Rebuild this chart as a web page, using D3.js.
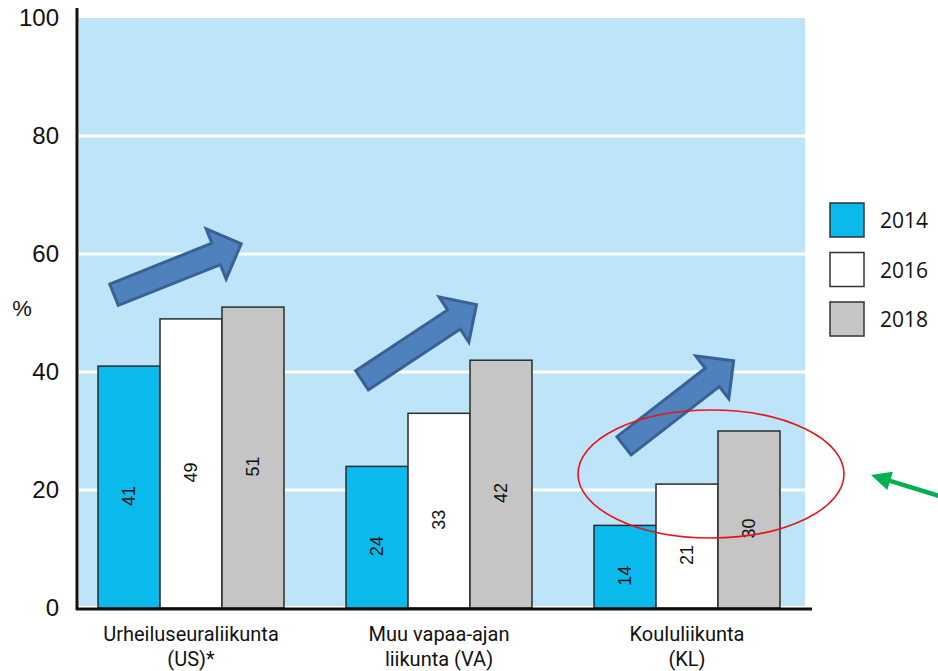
<!doctype html>
<html>
  <head>
    <script src="https://cdnjs.cloudflare.com/ajax/libs/d3/7.8.5/d3.min.js"></script>
    <style>
      body { margin: 0; background: #fff; }
      rect.bar { stroke: #2b2b2b; stroke-width: 1.5; }
      line.grid { stroke: #fff; stroke-width: 3; }
      path.trend { fill: #4f81bd; stroke: #3a6195; stroke-width: 3; stroke-linejoin: miter; }
      text { fill: #111; }
    </style>
  </head>
  <body>
    <svg id="chart" width="938" height="671"></svg>
    <script>
      // data
      var categories = [
        ["Urheiluseuraliikunta", "(US)*"],
        ["Muu vapaa-ajan", "liikunta (VA)"],
        ["Koululiikunta", "(KL)"]
      ];
      var years = ["2014", "2016", "2018"];
      var values2014 = [41, 24, 14];
      var values2016 = [49, 33, 21];
      var values2018 = [51, 42, 30];
      var yTicks = [0, 20, 40, 60, 80, 100];
      var yearColors = ["#0bbaec", "#ffffff", "#c5c5c5"];

      // trend arrows: offsets from group centre (px) and value levels
      var trendArrows = [
        { cat: 0, dx0: -77, v0: 53.1, dx1: 53, v1: 61.9 },
        { cat: 1, dx0: -77, v0: 38.6, dx1: 40, v1: 51.7 },
        { cat: 2, dx0: -63, v0: 27.5, dx1: 49, v1: 42.2 }
      ];

      var series = [values2014, values2016, values2018];
      var svg = d3.select("#chart");

      var y = d3.scaleLinear().domain([0, 100]).range([608, 18]);
      var x0 = d3.scaleBand().domain(d3.range(categories.length))
        .range([67, 811]).paddingInner(0.25).paddingOuter(0.125);
      var x1 = d3.scaleBand().domain(d3.range(years.length))
        .range([0, x0.bandwidth()]);

      // plot background
      svg.append("rect")
        .attr("x", 79).attr("y", y(100))
        .attr("width", 805 - 79).attr("height", y(0) - y(100) - 2)
        .attr("fill", "#bde4f8");

      svg.selectAll("line.grid")
        .data(yTicks.filter(d => d > 0 && d < 100))
        .enter().append("line")
          .attr("class", "grid")
          .attr("x1", 79).attr("x2", 805)
          .attr("y1", d => y(d)).attr("y2", d => y(d));

      // bars
      var groups = svg.selectAll("g.group")
        .data(categories)
        .enter().append("g")
          .attr("transform", (d, i) => "translate(" + x0(i) + ",0)");

      groups.selectAll("rect.bar")
        .data((d, i) => series.map((s, j) => ({ year: j, value: s[i] })))
        .enter().append("rect")
          .attr("class", "bar")
          .attr("x", d => x1(d.year))
          .attr("y", d => y(d.value))
          .attr("width", x1.bandwidth())
          .attr("height", d => y(0) - y(d.value))
          .attr("fill", d => yearColors[d.year]);

      groups.selectAll("text.val")
        .data((d, i) => series.map((s, j) => ({ year: j, value: s[i] })))
        .enter().append("text")
          .attr("transform", d => "translate(" + (x1(d.year) + x1.bandwidth() / 2 + 6) + "," +
                ((y(d.value) + y(0)) / 2 + 9) + ") rotate(-90)")
          .attr("text-anchor", "middle")
          .style("font-family", "Liberation Sans, Arial, sans-serif")
          .style("font-size", "18px")
          .text(d => d.value);

      // axes lines
      svg.append("line").attr("x1", 77).attr("x2", 77).attr("y1", 8).attr("y2", 610)
        .attr("stroke", "#111").attr("stroke-width", 3);
      svg.append("line").attr("x1", 76).attr("x2", 812).attr("y1", 609).attr("y2", 609)
        .attr("stroke", "#111").attr("stroke-width", 3);

      var yAxis = svg.append("g");
      yAxis.selectAll("text")
        .data(yTicks)
        .enter().append("text")
          .attr("x", 59).attr("y", d => y(d) + 8)
          .attr("text-anchor", "end")
          .style("font-family", "Liberation Sans, Arial, sans-serif")
          .style("font-size", "24px")
          .text(d => d);

      svg.append("text").attr("x", 22).attr("y", 316)
        .attr("text-anchor", "middle")
        .style("font-family", "Liberation Sans, Arial, sans-serif")
        .style("font-size", "22px").text("%");

      // category labels
      groups.append("text")
        .attr("text-anchor", "middle")
        .attr("x", x0.bandwidth() / 2)
        .style("font-family", "Roboto, sans-serif")
        .style("font-size", "20px")
        .selectAll("tspan")
        .data(d => d)
        .enter().append("tspan")
          .attr("x", x0.bandwidth() / 2)
          .attr("y", (d, i) => 641 + i * 25)
          .text(d => d);

      // trend arrows
      function arrowPath(L, w, hw, hl) {
        return "M0," + (-w / 2) + "L" + (L - hl) + "," + (-w / 2) + "L" + (L - hl) + "," + (-hw / 2) +
          "L" + L + ",0L" + (L - hl) + "," + (hw / 2) + "L" + (L - hl) + "," + (w / 2) +
          "L0," + (w / 2) + "Z";
      }
      trendArrows.forEach(a => {
        var cx = x0(a.cat) + x0.bandwidth() / 2;
        var xa = cx + a.dx0, ya = y(a.v0), xb = cx + a.dx1, yb = y(a.v1);
        var L = Math.hypot(xb - xa, yb - ya) - 3;
        var ang = Math.atan2(yb - ya, xb - xa) * 180 / Math.PI;
        svg.append("path")
          .attr("class", "trend")
          .attr("d", arrowPath(L, 23, 54, 27))
          .attr("transform", "translate(" + xa + "," + ya + ") rotate(" + ang + ")");
      });

      // highlight ellipse
      svg.append("ellipse")
        .attr("cx", 711).attr("cy", 474).attr("rx", 133).attr("ry", 64)
        .attr("fill", "none").attr("stroke", "#e8141a").attr("stroke-width", 1.6);

      // green pointer
      var gAng = Math.atan2(475 - 498, 871 - 946) * 180 / Math.PI;
      var gL = Math.hypot(871 - 946, 475 - 498);
      svg.append("path")
        .attr("d", arrowPath(gL, 4.5, 19, 20))
        .attr("transform", "translate(946,498) rotate(" + gAng + ")")
        .attr("fill", "#00b050");

      // legend
      var legend = svg.selectAll("g.legend")
        .data(years)
        .enter().append("g")
          .attr("transform", (d, i) => "translate(830," + (203 + i * 49.5) + ")");
      legend.append("rect")
        .attr("width", 34).attr("height", 34)
        .attr("fill", (d, i) => yearColors[i])
        .attr("stroke", "#333").attr("stroke-width", 1.5);
      legend.append("text")
        .attr("x", 50).attr("y", 25)
        .style("font-family", "Open Sans, sans-serif")
        .style("font-size", "21px")
        .text(d => d);
    </script>
  </body>
</html>
